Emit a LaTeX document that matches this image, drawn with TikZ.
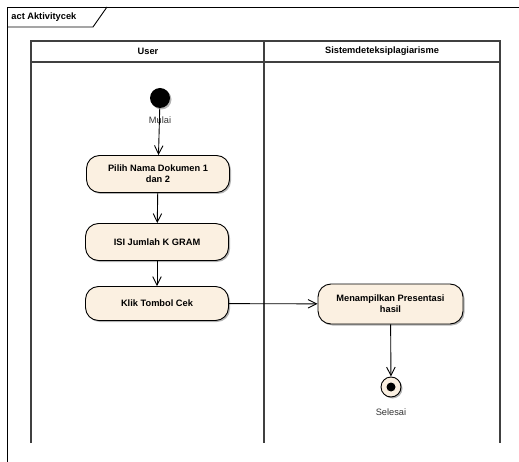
\documentclass[tikz,border=0pt]{standalone}
\usepackage{fontspec}
\setmainfont{Liberation Sans}
\usepackage{xcolor}
\usepackage{tikz}
\usetikzlibrary{arrows.meta,positioning,shadows}
\definecolor{actc}{HTML}{FBF0E1}
\definecolor{shdc}{HTML}{B4B4B4}
\definecolor{lanec}{HTML}{404040}
\tikzset{
  every path/.style={line width=0.9bp},
  ar/.style={-{Straight Barb[length=3mm,width=3mm]},black},
  act/.style={draw,rounded corners=13bp,fill=actc,align=center,minimum width=143bp,minimum height=37bp,inner sep=2pt,font=\bfseries\fontsize{9.3}{11}\selectfont,drop shadow={shadow xshift=1.5bp,shadow yshift=-1.5bp,fill=shdc,opacity=1}},
  hd/.style={font=\bfseries\fontsize{9.3}{11}\selectfont},
  lbl/.style={font=\fontsize{9.3}{11}\selectfont,text=black!80},
  lane/.style={line width=1.2bp,lanec}
}
\begin{document}
\begin{tikzpicture}[x=1bp,y=-1bp]
\useasboundingbox (0,0) rectangle (519,462);
% frame
\draw (7,462) -- (7,7) -- (519,7);
\draw (7,27) -- (93,27) -- (107,7);
\node[hd,anchor=west,inner sep=0pt] (title) at (11,17) {act Aktivitycek};
% swimlanes
\draw[lane] (31,443) -- (31,41) -- (500,41) -- (500,443);
\draw[lane] (31,62) -- (500,62);
\draw[lane] (264,41) -- (264,443);
\node[hd] (user) at (148,51.5) {User};
\node[hd] (sistem) at (382,51.5) {Sistemdeteksiplagiarisme};
% nodes
\node[circle,fill=black,minimum size=20bp,inner sep=0pt,drop shadow={shadow xshift=1.5bp,shadow yshift=-1.5bp,fill=shdc,opacity=1}] (mulai) at (160,98) {};
\node[lbl] (mulaitxt) at (160,120) {Mulai};
\node[act] (pilih) at (158,174) {Pilih Nama Dokumen 1\\dan 2};
\node[act] (isi) at (157,242) {ISI Jumlah K GRAM};
\node[act,minimum height=34bp] (klik) at (157,303.5) {Klik Tombol Cek};
\node[act,minimum width=145bp,minimum height=40bp] (tampil) at (390.5,304) {Menampilkan Presentasi\\hasil};
\node[circle,draw,fill=actc,minimum size=20bp,inner sep=0pt,drop shadow={shadow xshift=1.5bp,shadow yshift=-1.5bp,fill=shdc,opacity=1}] (selesai) at (391,387) {};
\fill (selesai.center) circle (4.5bp);
\node[lbl] (selesaitxt) at (391,412) {Selesai};
% flows
\draw[ar] (mulai) -- (pilih);
\draw[ar] (pilih) -- (isi);
\draw[ar] (isi) -- (klik);
\draw[ar] (klik) -- (tampil);
\draw[ar] (tampil) -- (selesai);
\end{tikzpicture}
\end{document}
